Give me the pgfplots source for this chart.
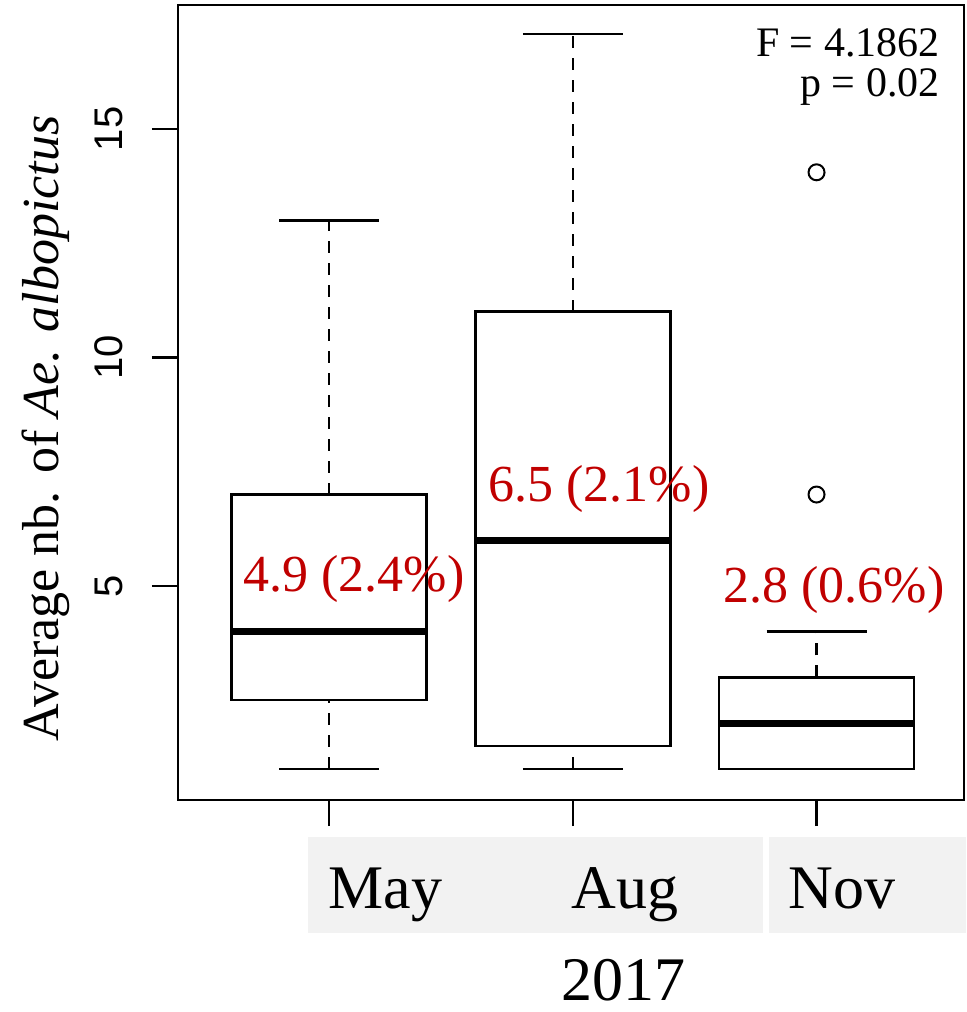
\documentclass[border=0pt]{standalone}
\usepackage{fontspec}
\setmainfont{Liberation Serif}
\newfontfamily\arial{Liberation Sans}
\newfontfamily\timesf{Liberation Serif}
\usepackage{pgfplots}
\pgfplotsset{compat=1.18}
\usepgfplotslibrary{statistics}
\definecolor{myred}{HTML}{C00000}
\definecolor{boxgray}{HTML}{F2F2F2}

\pgfplotsset{
  mybox/.style={
    black, line width=1.25pt,
    mark=o, mark size=4pt, mark options={solid, line width=1pt},
    boxplot/every median/.style={line width=3.5pt},
    boxplot/draw/lower whisker/.code={%
      \draw[line width=1.25pt, dash pattern=on 6pt off 5pt]
        (boxplot box cs:\pgfplotsboxplotvalue{lower whisker},0.5) --
        (boxplot box cs:\pgfplotsboxplotvalue{lower quartile},0.5);
      \draw[line width=1.25pt, solid]
        (boxplot whisker cs:\pgfplotsboxplotvalue{lower whisker},0) --
        (boxplot whisker cs:\pgfplotsboxplotvalue{lower whisker},1);
    },
    boxplot/draw/upper whisker/.code={%
      \draw[line width=1.25pt, dash pattern=on 6pt off 5pt]
        (boxplot box cs:\pgfplotsboxplotvalue{upper quartile},0.5) --
        (boxplot box cs:\pgfplotsboxplotvalue{upper whisker},0.5);
      \draw[line width=1.25pt, solid]
        (boxplot whisker cs:\pgfplotsboxplotvalue{upper whisker},0) --
        (boxplot whisker cs:\pgfplotsboxplotvalue{upper whisker},1);
    },
  }
}

\begin{document}
\begin{tikzpicture}
\path[use as bounding box] (-89pt,-106pt) rectangle (394pt,400pt);
\begin{axis}[
  at={(0,0)}, anchor=south west,
  width=393pt, height=397.5pt, scale only axis,
  xmin=0.3805, xmax=3.605, ymin=0.317, ymax=17.71,
  xtick={1,2,3}, xticklabels={},
  ytick={5,10,15}, yticklabels={},
  tick align=outside, major tick length=13pt,
  tick pos=left,
  tick style={line width=1.1pt, black},
  axis line style={line width=1.25pt},
  clip=false,
  boxplot/draw direction=y,
]
\addplot[mybox, boxplot prepared={draw position=1, lower whisker=1, lower quartile=2.5, median=4, upper quartile=7, upper whisker=13, box extend=0.8, whisker extend=0.41}] coordinates {};
\addplot[mybox, boxplot prepared={draw position=2, lower whisker=1, lower quartile=1.5, median=6, upper quartile=11, upper whisker=17.07, box extend=0.8, whisker extend=0.41}] coordinates {};
\addplot[mybox, boxplot prepared={draw position=3, lower whisker=1, lower quartile=1, median=2, upper quartile=3, upper whisker=4, box extend=0.8, whisker extend=0.41}] table[row sep=\\, y index=0] {v\\ 7\\ 14.05\\};

\node[rotate=90, anchor=base, inner sep=0pt, font=\arial\fontsize{20pt}{24pt}\selectfont]
    at ([xshift=-27.5pt]axis cs:0.3805,5) {5};
\node[rotate=90, anchor=base, inner sep=0pt, font=\arial\fontsize{20pt}{24pt}\selectfont]
    at ([xshift=-27.5pt]axis cs:0.3805,10) {10};
\node[rotate=90, anchor=base, inner sep=0pt, font=\arial\fontsize{20pt}{24pt}\selectfont]
    at ([xshift=-27.5pt]axis cs:0.3805,15) {15};
\end{axis}

% grey label panels
\fill[boxgray] (65pt,-18.5pt) rectangle (292.5pt,-66.5pt);
\fill[boxgray] (295.5pt,-18.5pt) rectangle (394pt,-66.5pt);

\begin{scope}[every node/.style={inner sep=0pt, font=\timesf\fontsize{31pt}{36pt}\selectfont}]
\node[anchor=base west] at (75pt,-54pt) {May};
\node[anchor=base west] at (196.5pt,-54pt) {Aug};
\node[anchor=base west] at (305pt,-54pt) {Nov};
\node[anchor=base west] at (191.5pt,-100pt) {2017};
\end{scope}

% y label
\node[rotate=90, anchor=base, inner sep=0pt, font=\timesf\fontsize{26pt}{30pt}\selectfont]
  at (-59.5pt,185.75pt) {Average nb. of \textit{Ae. albopictus}};

% statistics
\node[anchor=base east, inner sep=0pt, font=\timesf\fontsize{21pt}{25pt}\selectfont] at (381pt,371.5pt) {F = 4.1862};
\node[anchor=base east, inner sep=0pt, font=\timesf\fontsize{21pt}{25pt}\selectfont] at (381pt,351.5pt) {p = 0.02};

% red annotations
\begin{scope}[every node/.style={inner sep=0pt, anchor=base west, text=myred, font=\timesf\fontsize{26pt}{30pt}\selectfont}]
\node at (32.5pt,104pt) {4.9 (2.4\%)};
\node at (155pt,149pt) {6.5 (2.1\%)};
\node at (272.5pt,98.5pt) {2.8 (0.6\%)};
\end{scope}
\end{tikzpicture}
\end{document}
